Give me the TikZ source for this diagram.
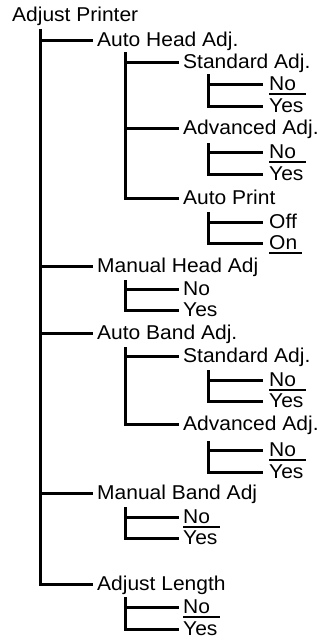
\documentclass[tikz,border=0pt]{standalone}
\usepackage{fontspec}
\setmainfont[FakeStretch=1.05]{Liberation Sans}
\begin{document}
\begin{tikzpicture}[x=1pt,y=-1pt,
  lbl/.style={anchor=west, inner sep=0pt, text height=12pt, text depth=0pt, font=\fontsize{20}{24}\selectfont},
  tree/.style={line width=3pt, line cap=rect},
  uline/.style={line width=2.2pt}]
\useasboundingbox (0,0) rectangle (321,643);
% labels
\node[lbl] (root) at (12,15) {Adjust Printer};
\node[lbl] (ah) at (97,40) {Auto Head Adj.};
\node[lbl] (ahs) at (183,62) {Standard Adj.};
\node[lbl] (ahsn) at (269,84) {No};
\node[lbl] (ahsy) at (269,106) {Yes};
\node[lbl] (aha) at (183,128) {Advanced Adj.};
\node[lbl] (ahan) at (269,152) {No};
\node[lbl] (ahay) at (269,174) {Yes};
\node[lbl] (ap) at (183,198) {Auto Print};
\node[lbl] (apoff) at (269,222) {Off};
\node[lbl] (apon) at (269,243) {On};
\node[lbl] (mh) at (97,266) {Manual Head Adj};
\node[lbl] (mhn) at (183,289) {No};
\node[lbl] (mhy) at (183,310) {Yes};
\node[lbl] (ab) at (97,333) {Auto Band Adj.};
\node[lbl] (abs) at (183,356) {Standard Adj.};
\node[lbl] (absn) at (269,380) {No};
\node[lbl] (absy) at (269,401) {Yes};
\node[lbl] (aba) at (183,424) {Advanced Adj.};
\node[lbl] (aban) at (269,450) {No};
\node[lbl] (abay) at (269,472) {Yes};
\node[lbl] (mb) at (97,493) {Manual Band Adj};
\node[lbl] (mbn) at (183,517) {No};
\node[lbl] (mby) at (183,538) {Yes};
\node[lbl] (al) at (97,584) {Adjust Length};
\node[lbl] (aln) at (183,607) {No};
\node[lbl] (aly) at (183,629) {Yes};
% vertical line tops
\coordinate (v0) at (40,30);
\coordinate (v1) at (125,53);
\coordinate (v2) at (208,75);
\coordinate (v3) at (208,144);
\coordinate (v4) at (208,213);
\coordinate (v5) at (125,281);
\coordinate (v6) at (125,348);
\coordinate (v7) at (208,371);
\coordinate (v8) at (208,442);
\coordinate (v9) at (125,508);
\coordinate (v10) at (125,598);
% trees
\draw[tree] (v0) -- (v0 |- al.west) -- ([xshift=-6pt]al.west);
\foreach \n in {ah,mh,ab,mb} \draw[tree] (v0 |- \n.west) -- ([xshift=-6pt]\n.west);
\draw[tree] (v1) -- (v1 |- ap.west) -- ([xshift=-6pt]ap.west);
\foreach \n in {ahs,aha} \draw[tree] (v1 |- \n.west) -- ([xshift=-6pt]\n.west);
\draw[tree] (v2) -- (v2 |- ahsy.west) -- ([xshift=-8pt]ahsy.west);
\draw[tree] (v2 |- ahsn.west) -- ([xshift=-8pt]ahsn.west);
\draw[tree] (v3) -- (v3 |- ahay.west) -- ([xshift=-8pt]ahay.west);
\draw[tree] (v3 |- ahan.west) -- ([xshift=-8pt]ahan.west);
\draw[tree] (v4) -- (v4 |- apon.west) -- ([xshift=-8pt]apon.west);
\draw[tree] (v4 |- apoff.west) -- ([xshift=-8pt]apoff.west);
\draw[tree] (v5) -- (v5 |- mhy.west) -- ([xshift=-6pt]mhy.west);
\draw[tree] (v5 |- mhn.west) -- ([xshift=-6pt]mhn.west);
\draw[tree] (v6) -- (v6 |- aba.west) -- ([xshift=-6pt]aba.west);
\draw[tree] (v6 |- abs.west) -- ([xshift=-6pt]abs.west);
\draw[tree] (v7) -- (v7 |- absy.west) -- ([xshift=-8pt]absy.west);
\draw[tree] (v7 |- absn.west) -- ([xshift=-8pt]absn.west);
\draw[tree] (v8) -- (v8 |- abay.west) -- ([xshift=-8pt]abay.west);
\draw[tree] (v8 |- aban.west) -- ([xshift=-8pt]aban.west);
\draw[tree] (v9) -- (v9 |- mby.west) -- ([xshift=-6pt]mby.west);
\draw[tree] (v9 |- mbn.west) -- ([xshift=-6pt]mbn.west);
\draw[tree] (v10) -- (v10 |- aly.west) -- ([xshift=-6pt]aly.west);
\draw[tree] (v10 |- aln.west) -- ([xshift=-6pt]aln.west);
% underlines
\foreach \n in {ahsn,ahan,absn,aban,mbn,aln} \draw[uline] ([yshift=-10pt]\n.west) -- ++(37,0);
\draw[uline] ([yshift=-10pt]apon.west) -- ++(33,0);
\end{tikzpicture}
\end{document}
